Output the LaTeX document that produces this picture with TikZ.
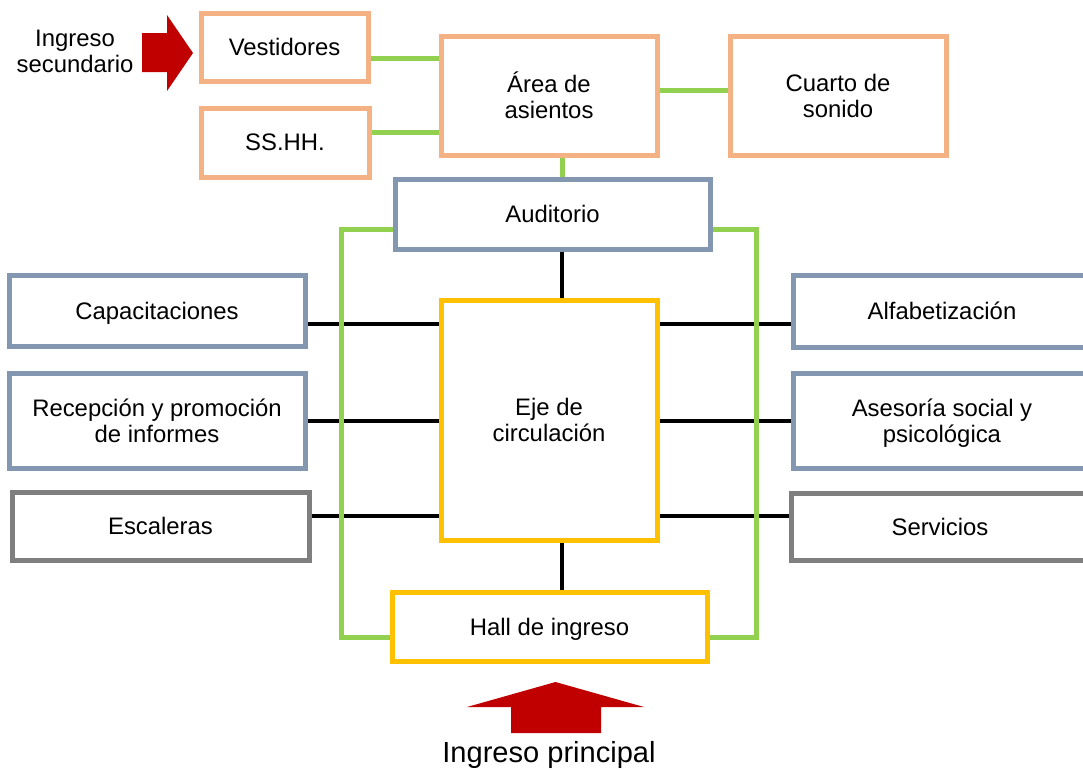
\documentclass[tikz,border=0pt]{standalone}
\usepackage{fontspec}
\setmainfont{Liberation Sans}
\usetikzlibrary{arrows}
\definecolor{salmon}{RGB}{244,177,131}
\definecolor{slate}{RGB}{132,151,176}
\definecolor{stone}{RGB}{127,127,127}
\definecolor{gold}{RGB}{255,192,0}
\definecolor{grass}{RGB}{146,208,80}
\definecolor{crimson}{RGB}{192,0,0}
\tikzset{every picture/.style={line width=0.75pt}}
\tikzset{
roombox/.style={draw, line width=3.75pt, fill=white, align=center, inner sep=0pt,
  text depth=0pt, font=\fontsize{17.9pt}{19.5pt}\selectfont},
stagebox/.style={roombox, draw=salmon},
zonebox/.style={roombox, draw=slate},
servbox/.style={roombox, draw=stone},
axisbox/.style={roombox, draw=gold},
greenlink/.style={draw=grass, line width=3.75pt},
blacklink/.style={draw=black, line width=3pt}}

\begin{document}
\begin{tikzpicture}[x=0.75pt,y=0.75pt,yscale=-1,xscale=1]
\useasboundingbox (0,0) rectangle (1083,769);

% Text Node
\node (vest) [stagebox, minimum width=125.25pt, minimum height=51pt] at (284.5,47) {Vestidores};
% Text Node
\node (sshh) [stagebox, minimum width=126pt, minimum height=51.75pt] at (285,142.5) {SS.HH.};
% Text Node
\node (area) [stagebox, minimum width=162pt, minimum height=89.25pt] at (549,95.5) {Área de\\asientos};
% Text Node
\node (cuarto) [stagebox, minimum width=162pt, minimum height=89.25pt] at (838,95.5) {Cuarto de\\sonido};
% Text Node
\node (aud) [zonebox, minimum width=236.25pt, minimum height=52.5pt] at (552.5,214) {Auditorio};
% Text Node
\node (eje) [axisbox, minimum width=162pt, minimum height=180pt] at (549,420) {Eje de\\circulación};
% Text Node
\node (hall) [axisbox, minimum width=236.25pt, minimum height=51.75pt] at (549.5,626.5) {Hall de ingreso};
% Text Node
\node (capa) [zonebox, minimum width=222pt, minimum height=53.25pt] at (157,310.5) {Capacitaciones};
% Text Node
\node (recep) [zonebox, minimum width=222pt, minimum height=71.25pt] at (157,420.5) {Recepción y promoción\\de informes};
% Text Node
\node (escal) [servbox, minimum width=222.75pt, minimum height=51pt] at (160.5,526) {Escaleras};
% Text Node
\node (alfa) [zonebox, minimum width=223.5pt, minimum height=54pt] at (942,311) {Alfabetización};
% Text Node
\node (ases) [zonebox, minimum width=222.75pt, minimum height=71.25pt] at (942,420.5) {Asesoría social y\\psicológica};
% Text Node
\node (serv) [servbox, minimum width=223.5pt, minimum height=50.25pt] at (940,526.5) {Servicios};

% Text Node
\node (ingsec) [align=center, font=\fontsize{17.9pt}{19.5pt}\selectfont] at (75,51) {Ingreso\\secundario};
% Text Node
\node (ingprin) [font=\fontsize{21.8pt}{24pt}\selectfont] at (549,755) {Ingreso principal};

%Straight Lines
\coordinate (spine) at (562,0);
\draw [blacklink] (aud.south -| spine) -- (eje.north -| spine);
\draw [blacklink] (eje.south -| spine) -- (hall.north -| spine);
\draw [blacklink] ([yshift=10.125pt]capa.east) -- ([yshift=10.125pt]capa.east -| eje.west);
\draw [blacklink] (recep.east) -- (recep.east -| eje.west);
\draw [blacklink] ([yshift=-7.5pt]escal.east) -- ([yshift=-7.5pt]escal.east -| eje.west);
\draw [blacklink] ([yshift=9.75pt]alfa.west) -- ([yshift=9.75pt]alfa.west -| eje.east);
\draw [blacklink] (ases.west) -- (ases.west -| eje.east);
\draw [blacklink] ([yshift=-7.875pt]serv.west) -- ([yshift=-7.875pt]serv.west -| eje.east);

%Straight Lines
\draw [greenlink] ([yshift=8.25pt]vest.east) -- ([yshift=8.25pt]vest.east -| area.west);
\draw [greenlink] ([yshift=-7.875pt]sshh.east) -- ([yshift=-7.875pt]sshh.east -| area.west);
\draw [greenlink] ([yshift=-3.4pt]area.east) -- ([yshift=-3.4pt]area.east -| cuarto.west);
\draw [greenlink] (area.south -| spine) -- (aud.north -| spine);
\draw [greenlink] ([yshift=11.25pt]aud.west) -- ++(-51.5,0) |- ([yshift=7.875pt]hall.west);
\draw [greenlink] ([yshift=11.25pt]aud.east) -- ++(43.5,0) |- ([yshift=7.875pt]hall.east);

%Shape: Arrows
\fill [crimson] (142,33) -- (167,33) -- (167,15) -- (193,53) -- (167,91) -- (167,72) -- (142,72) -- cycle;
\fill [crimson] (467,707) -- (555.5,682) -- (644,707) -- (601,707) -- (601,733) -- (511,733) -- (511,707) -- cycle;

\end{tikzpicture}
\end{document}
